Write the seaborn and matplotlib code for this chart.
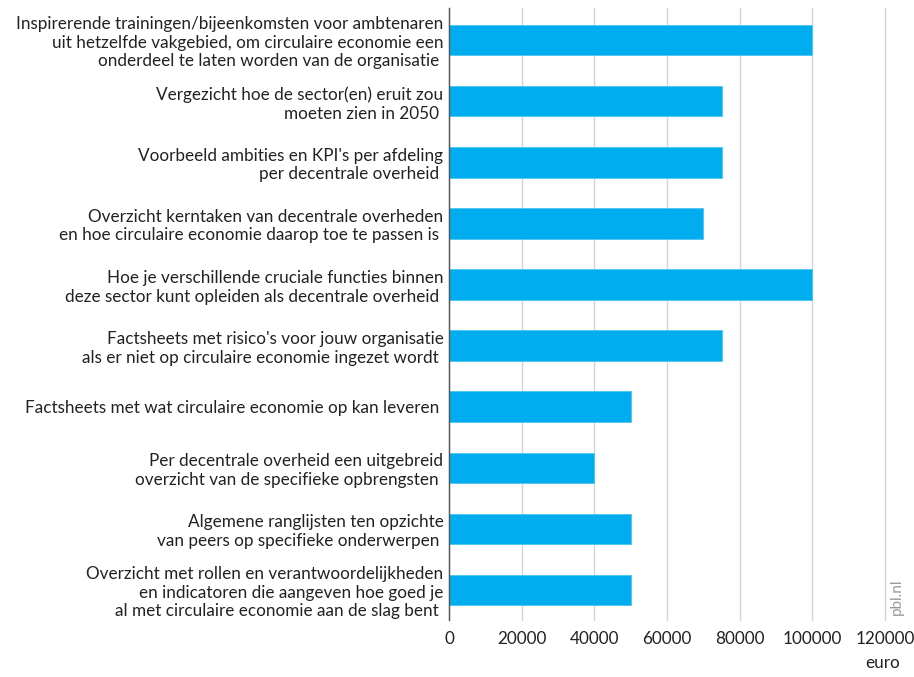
import matplotlib
matplotlib.use("Agg")
import matplotlib.pyplot as plt
import seaborn as sns
import pandas as pd

categories = [
    "Inspirerende trainingen/bijeenkomsten voor ambtenaren\nuit hetzelfde vakgebied, om circulaire economie een\nonderdeel te laten worden van de organisatie ",
    "Vergezicht hoe de sector(en) eruit zou\nmoeten zien in 2050 ",
    "Voorbeeld ambities en KPI's per afdeling\nper decentrale overheid ",
    "Overzicht kerntaken van decentrale overheden\nen hoe circulaire economie daarop toe te passen is ",
    "Hoe je verschillende cruciale functies binnen\ndeze sector kunt opleiden als decentrale overheid ",
    "Factsheets met risico's voor jouw organisatie\nals er niet op circulaire economie ingezet wordt ",
    "Factsheets met wat circulaire economie op kan leveren ",
    "Per decentrale overheid een uitgebreid\noverzicht van de specifieke opbrengsten ",
    "Algemene ranglijsten ten opzichte\nvan peers op specifieke onderwerpen ",
    "Overzicht met rollen en verantwoordelijkheden\nen indicatoren die aangeven hoe goed je\nal met circulaire economie aan de slag bent ",
]
values = [100000, 75000, 75000, 70000, 100000, 75000, 50000, 40000, 50000, 50000]
xticks = [0, 20000, 40000, 60000, 80000, 100000, 120000]

df = pd.DataFrame({"label": categories, "euro": values})

sns.set_theme(style="white")
plt.rcParams["font.family"] = ["Lato", "DejaVu Sans"]

fig = plt.figure(figsize=(9.14, 6.77), dpi=100)
ax = fig.add_axes([449/914, 1 - 620/677, (885 - 449)/914, (620 - 8)/677])

sns.barplot(data=df, x="euro", y="label", orient="h", color="#00AEEF",
            saturation=1, width=0.5, edgecolor="#4cc4f2", linewidth=0.6, ax=ax)

ax.set_xlim(0, 120000)
ax.set_ylim(9.49, -0.524)
ax.set_xticks(xticks)
ax.set_xticklabels([str(t) for t in xticks], fontsize=12.3, color="#222222")
ax.tick_params(axis="y", labelsize=12.3, length=0, pad=4, colors="#222222")
ax.tick_params(axis="x", length=0, pad=8)
for lbl in ax.get_yticklabels():
    lbl.set_multialignment("right")
ax.set_ylabel("")
ax.set_xlabel("")
ax.grid(axis="x", color="#d4d4d4", linewidth=1)
for gl in ax.get_xgridlines():
    gl.set_clip_on(False)
ax.set_axisbelow(True)
for s in ["top", "right", "bottom"]:
    ax.spines[s].set_visible(False)
ax.spines["left"].set_color("#555555")
ax.spines["left"].set_linewidth(1)

fig.text(900/914, 1 - 663/677, "euro", ha="right", va="center", fontsize=12.3, color="#222222")
fig.text(897/914, 1 - 597/677, "pbl.nl", rotation=90, ha="center", va="center",
         fontsize=11, color="#999999")

fig.savefig("out.png", dpi=100)
